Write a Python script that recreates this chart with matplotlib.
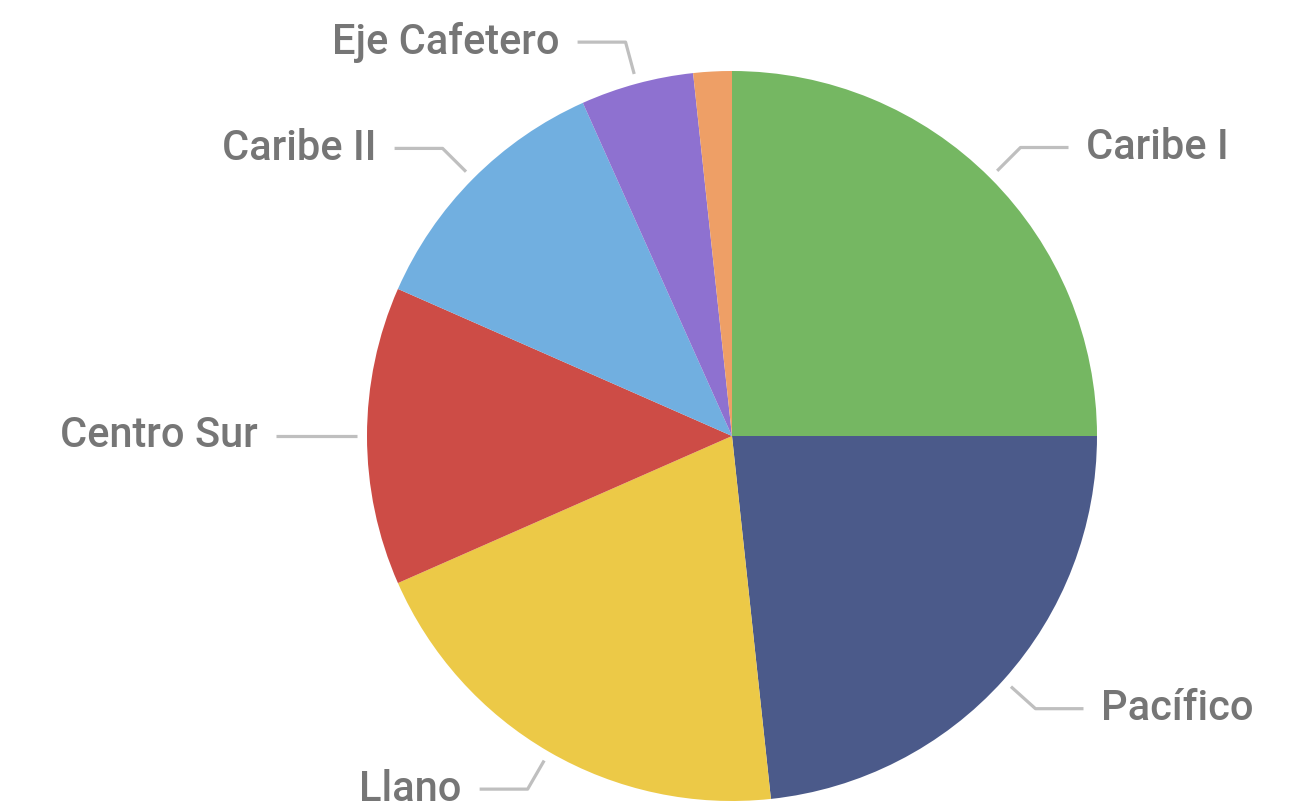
import numpy as np
import matplotlib
matplotlib.use("Agg")
import matplotlib.pyplot as plt

labels = ["Caribe I", "Pacífico", "Llano", "Centro Sur", "Caribe II", "Eje Cafetero", ""]
values = [25.0, 23.3, 20.1, 13.2, 11.7, 5.0, 1.7]
colors = ["#75B762", "#4B5A8A", "#ECC947", "#CD4C46", "#71AFE0", "#8E71D0", "#EE9F66"]

W, H = 1301, 806
fig = plt.figure(figsize=(W / 100, H / 100), dpi=100)
cx, cy, R = 732, 436, 365
ax = fig.add_axes([(cx - R) / W, (H - cy - R) / H, 2 * R / W, 2 * R / H])
wedges, _ = ax.pie(values, colors=colors, startangle=90, counterclock=False,
                   radius=1, wedgeprops=dict(linewidth=0))
ax.set_xlim(-1, 1)
ax.set_ylim(-1, 1)
ax.set_aspect("equal")
ax.axis("off")

r0, r1 = 375 / R, 408 / R
hlen, gap = 48 / R, 18 / R
for w, lab in zip(wedges, labels):
    if not lab:
        continue
    ang = np.deg2rad((w.theta1 + w.theta2) / 2)
    x0, y0 = r0 * np.cos(ang), r0 * np.sin(ang)
    x1, y1 = r1 * np.cos(ang), r1 * np.sin(ang)
    side = 1 if np.cos(ang) > 1e-6 else -1
    x2 = x1 + side * hlen
    ax.plot([x0, x1, x2], [y0, y1, y1], color="#BFBFBF", lw=2.3,
            solid_capstyle="butt", clip_on=False)
    ax.text(x2 + side * gap, y1, lab, ha="left" if side > 0 else "right",
            va="center", fontsize=30, color="#767676", family="Roboto",
            fontweight="medium")

fig.savefig("out.png", dpi=100)
